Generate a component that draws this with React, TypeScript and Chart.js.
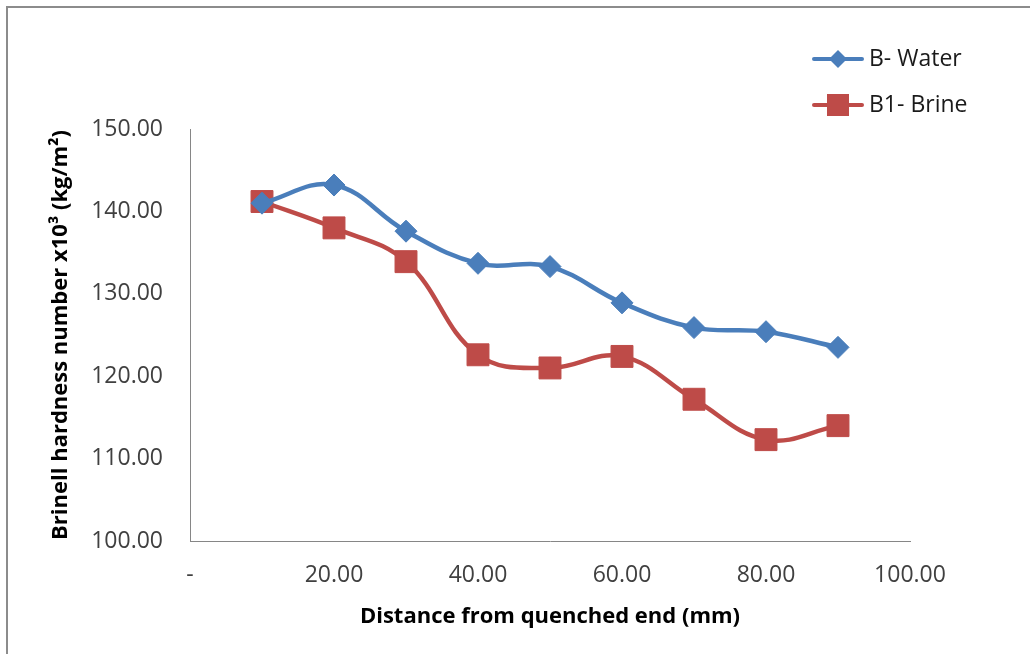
import React, { useEffect, useRef } from "react";
import { Chart, registerables } from "chart.js";

Chart.register(...registerables);

const distances = [10, 20, 30, 40, 50, 60, 70, 80, 90];
const waterValues = [141.0, 143.2, 137.6, 133.7, 133.3, 128.9, 125.9, 125.4, 123.5];
const brineValues = [141.2, 138.0, 133.9, 122.6, 121.0, 122.4, 117.2, 112.3, 114.0];
const seriesLabels = ["B- Water", "B1- Brine"];
const xTitle = "Distance from quenched end (mm)";
const yTitle = "Brinell hardness number x10³ (kg/m²)";

const BLUE = "#4A7EBB";
const RED = "#BE4B48";
const FONT = "'Open Sans', 'Liberation Sans', sans-serif";

const framePlugin = {
  id: "frame",
  beforeDraw(chart: any) {
    const ctx = chart.ctx;
    ctx.save();
    ctx.fillStyle = "#ffffff";
    ctx.fillRect(0, 0, chart.width, chart.height);
    ctx.strokeStyle = "#8c8c8c";
    ctx.lineWidth = 2;
    ctx.beginPath();
    ctx.moveTo(7, chart.height);
    ctx.lineTo(7, 7);
    ctx.lineTo(chart.width, 7);
    ctx.stroke();
    ctx.restore();
  },
};

const legendPlugin = {
  id: "customLegend",
  afterDraw(chart: any) {
    const ctx = chart.ctx;
    const items = chart.data.datasets;
    ctx.save();
    items.forEach((ds: any, i: number) => {
      const y = 59 + i * 46;
      ctx.strokeStyle = ds.borderColor;
      ctx.lineWidth = 4;
      ctx.lineCap = "round";
      ctx.beginPath();
      ctx.moveTo(814, y);
      ctx.lineTo(862, y);
      ctx.stroke();
      ctx.fillStyle = ds.pointBackgroundColor;
      ctx.beginPath();
      if (ds.pointStyle === "rectRot") {
        const r = 9;
        ctx.moveTo(838, y - r);
        ctx.lineTo(838 + r, y);
        ctx.lineTo(838, y + r);
        ctx.lineTo(838 - r, y);
        ctx.closePath();
      } else {
        ctx.rect(838 - 11, y - 11, 22, 22);
      }
      ctx.fill();
      ctx.fillStyle = "#1a1a1a";
      ctx.font = `23px ${FONT}`;
      ctx.textBaseline = "middle";
      ctx.textAlign = "left";
      ctx.fillText(ds.label, 869, y);
    });
    ctx.restore();
  },
};

export default function App() {
  const ref = useRef<HTMLCanvasElement | null>(null);

  useEffect(() => {
    document.body.style.margin = "0";
    const canvas = ref.current;
    if (!canvas) return;
    const chart = new Chart(canvas, {
      type: "line",
      data: {
        datasets: [
          {
            label: seriesLabels[0],
            data: distances.map((d, i) => ({ x: d, y: waterValues[i] })),
            borderColor: BLUE,
            backgroundColor: BLUE,
            pointBackgroundColor: BLUE,
            pointBorderColor: BLUE,
            borderWidth: 4.5,
            pointStyle: "rectRot",
            pointRadius: 11,
            pointBorderWidth: 1,
            tension: 0.4,
            fill: false,
          },
          {
            label: seriesLabels[1],
            data: distances.map((d, i) => ({ x: d, y: brineValues[i] })),
            borderColor: RED,
            backgroundColor: RED,
            pointBackgroundColor: RED,
            pointBorderColor: RED,
            borderWidth: 4.5,
            pointStyle: "rect",
            pointRadius: 15.5,
            pointBorderWidth: 1,
            tension: 0.4,
            fill: false,
          },
        ],
      },
      options: {
        animation: false,
        responsive: false,
        maintainAspectRatio: false,
        layout: { padding: { left: 0, top: 129, right: 120, bottom: 0 } },
        plugins: {
          legend: { display: false },
          tooltip: { enabled: false },
        },
        scales: {
          x: {
            type: "linear",
            min: 0,
            max: 100,
            ticks: {
              stepSize: 20,
              padding: 21,
              color: "#404040",
              font: { family: FONT, size: 23 },
              callback: (v: any) => (Number(v) === 0 ? "-" : Number(v).toFixed(2)),
              maxRotation: 0,
            },
            grid: { display: false, drawTicks: false },
            border: { display: true, color: "#868686", width: 1 },
            title: {
              display: true,
              text: xTitle,
              color: "#000000",
              font: { family: FONT, size: 22, weight: "bold" },
              padding: { top: 0, bottom: 24 },
            },
            afterFit: (s: any) => {
              s.height = 113;
            },
          },
          y: {
            type: "linear",
            min: 100,
            max: 150,
            ticks: {
              stepSize: 10,
              padding: 27,
              color: "#404040",
              font: { family: FONT, size: 23 },
              callback: (v: any) => Number(v).toFixed(2),
            },
            grid: { display: false, drawTicks: false },
            border: { display: true, color: "#868686", width: 1 },
            title: {
              display: true,
              text: yTitle,
              color: "#000000",
              font: { family: FONT, size: 22, weight: "bold" },
              padding: { top: 48, bottom: 0 },
            },
            afterFit: (s: any) => {
              s.width = 190;
            },
          },
        },
      },
      plugins: [framePlugin, legendPlugin],
    } as any);
    return () => chart.destroy();
  }, []);

  return (
    <div style={{ position: "absolute", left: 0, top: 0, width: 1030, height: 654 }}>
      <canvas ref={ref} width={1030} height={654} style={{ display: "block" }} />
    </div>
  );
}
